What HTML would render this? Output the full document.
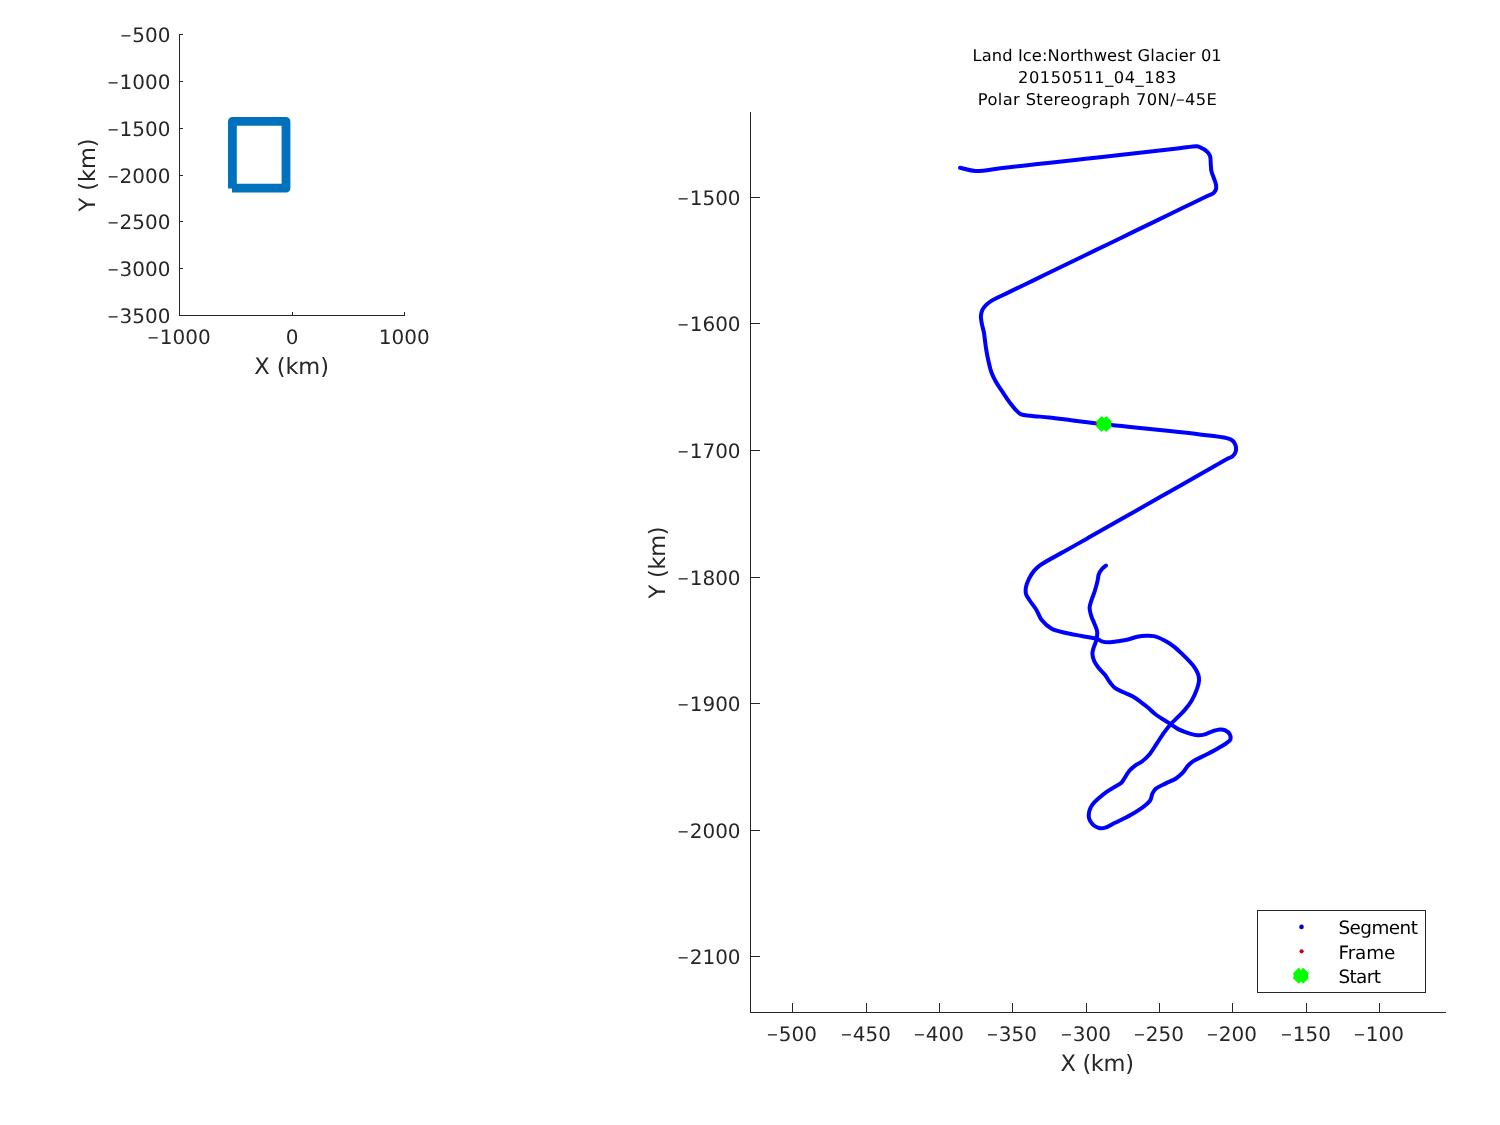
<!DOCTYPE html>
<html><head><meta charset="utf-8"><title>Land Ice:Northwest Glacier 01</title>
<style>html,body{margin:0;padding:0;background:#fff;}body{width:1500px;height:1125px;overflow:hidden;}svg{display:block;will-change:transform;}text{text-rendering:geometricPrecision;}</style>
</head><body>
<svg width="1500" height="1125" viewBox="0 0 1500 1125"><g fill="#262626" shape-rendering="crispEdges">
<rect x="179" y="34" width="1" height="282"/>
<rect x="179" y="315" width="226" height="1"/>
<rect x="180" y="34" width="3" height="1"/>
<rect x="180" y="81" width="3" height="1"/>
<rect x="180" y="128" width="3" height="1"/>
<rect x="180" y="175" width="3" height="1"/>
<rect x="180" y="221" width="3" height="1"/>
<rect x="180" y="268" width="3" height="1"/>
<rect x="292" y="312" width="1" height="3"/>
<rect x="404" y="312" width="1" height="3"/>
</g>
<g font-family='"DejaVu Sans", "Liberation Sans", sans-serif' font-size="20" fill="#262626">
<text x="170.50" y="42.20" text-anchor="end"><tspan font-family='"Liberation Sans", "DejaVu Sans", sans-serif' font-size="18.5">−</tspan><tspan dx="1.1">500</tspan></text>
<text x="170.50" y="89.20" text-anchor="end"><tspan font-family='"Liberation Sans", "DejaVu Sans", sans-serif' font-size="18.5">−</tspan><tspan dx="1.1">1000</tspan></text>
<text x="170.50" y="136.20" text-anchor="end"><tspan font-family='"Liberation Sans", "DejaVu Sans", sans-serif' font-size="18.5">−</tspan><tspan dx="1.1">1500</tspan></text>
<text x="170.50" y="183.20" text-anchor="end"><tspan font-family='"Liberation Sans", "DejaVu Sans", sans-serif' font-size="18.5">−</tspan><tspan dx="1.1">2000</tspan></text>
<text x="170.50" y="229.20" text-anchor="end"><tspan font-family='"Liberation Sans", "DejaVu Sans", sans-serif' font-size="18.5">−</tspan><tspan dx="1.1">2500</tspan></text>
<text x="170.50" y="276.20" text-anchor="end"><tspan font-family='"Liberation Sans", "DejaVu Sans", sans-serif' font-size="18.5">−</tspan><tspan dx="1.1">3000</tspan></text>
<text x="170.50" y="323.20" text-anchor="end"><tspan font-family='"Liberation Sans", "DejaVu Sans", sans-serif' font-size="18.5">−</tspan><tspan dx="1.1">3500</tspan></text>
<text x="179.20" y="344.00" text-anchor="middle"><tspan font-family='"Liberation Sans", "DejaVu Sans", sans-serif' font-size="18.5">−</tspan><tspan dx="1.1">1000</tspan></text>
<text x="292.20" y="344.00" text-anchor="middle">0</text>
<text x="404.20" y="344.00" text-anchor="middle">1000</text>
</g>
<g font-family='"DejaVu Sans", "Liberation Sans", sans-serif' fill="#262626">
<text x="254.33" y="373.70" font-size="22.5" textLength="74.60" lengthAdjust="spacing">X (km)</text>
<g transform="translate(94.5,211.5) rotate(-90)"><text x="0.04" y="0.00" font-size="22.5" textLength="73.09" lengthAdjust="spacing">Y (km)</text></g>
</g>
<path d="M232.4,188.4V121.4H286V188.2H232" fill="none" stroke="#0072BD" stroke-width="8.8" stroke-linejoin="round" stroke-linecap="butt"/>
<g fill="#262626" shape-rendering="crispEdges">
<rect x="750" y="112" width="1" height="901"/>
<rect x="750" y="1012" width="696" height="1"/>
<rect x="751" y="197" width="9" height="1"/>
<rect x="751" y="323" width="9" height="1"/>
<rect x="751" y="450" width="9" height="1"/>
<rect x="751" y="577" width="9" height="1"/>
<rect x="751" y="703" width="9" height="1"/>
<rect x="751" y="830" width="9" height="1"/>
<rect x="751" y="956" width="9" height="1"/>
<rect x="792" y="1003" width="1" height="9"/>
<rect x="866" y="1003" width="1" height="9"/>
<rect x="939" y="1003" width="1" height="9"/>
<rect x="1012" y="1003" width="1" height="9"/>
<rect x="1086" y="1003" width="1" height="9"/>
<rect x="1159" y="1003" width="1" height="9"/>
<rect x="1232" y="1003" width="1" height="9"/>
<rect x="1306" y="1003" width="1" height="9"/>
<rect x="1379" y="1003" width="1" height="9"/>
</g>
<g font-family='"DejaVu Sans", "Liberation Sans", sans-serif' font-size="20" fill="#262626">
<text x="740.60" y="205.10" text-anchor="end"><tspan font-family='"Liberation Sans", "DejaVu Sans", sans-serif' font-size="18.5">−</tspan><tspan dx="1.1">1500</tspan></text>
<text x="740.60" y="331.10" text-anchor="end"><tspan font-family='"Liberation Sans", "DejaVu Sans", sans-serif' font-size="18.5">−</tspan><tspan dx="1.1">1600</tspan></text>
<text x="740.60" y="458.10" text-anchor="end"><tspan font-family='"Liberation Sans", "DejaVu Sans", sans-serif' font-size="18.5">−</tspan><tspan dx="1.1">1700</tspan></text>
<text x="740.60" y="585.10" text-anchor="end"><tspan font-family='"Liberation Sans", "DejaVu Sans", sans-serif' font-size="18.5">−</tspan><tspan dx="1.1">1800</tspan></text>
<text x="740.60" y="711.10" text-anchor="end"><tspan font-family='"Liberation Sans", "DejaVu Sans", sans-serif' font-size="18.5">−</tspan><tspan dx="1.1">1900</tspan></text>
<text x="740.60" y="838.10" text-anchor="end"><tspan font-family='"Liberation Sans", "DejaVu Sans", sans-serif' font-size="18.5">−</tspan><tspan dx="1.1">2000</tspan></text>
<text x="740.60" y="964.10" text-anchor="end"><tspan font-family='"Liberation Sans", "DejaVu Sans", sans-serif' font-size="18.5">−</tspan><tspan dx="1.1">2100</tspan></text>
<text x="792.00" y="1041.10" text-anchor="middle"><tspan font-family='"Liberation Sans", "DejaVu Sans", sans-serif' font-size="18.5">−</tspan><tspan dx="1.1">500</tspan></text>
<text x="866.00" y="1041.10" text-anchor="middle"><tspan font-family='"Liberation Sans", "DejaVu Sans", sans-serif' font-size="18.5">−</tspan><tspan dx="1.1">450</tspan></text>
<text x="939.00" y="1041.10" text-anchor="middle"><tspan font-family='"Liberation Sans", "DejaVu Sans", sans-serif' font-size="18.5">−</tspan><tspan dx="1.1">400</tspan></text>
<text x="1012.00" y="1041.10" text-anchor="middle"><tspan font-family='"Liberation Sans", "DejaVu Sans", sans-serif' font-size="18.5">−</tspan><tspan dx="1.1">350</tspan></text>
<text x="1086.00" y="1041.10" text-anchor="middle"><tspan font-family='"Liberation Sans", "DejaVu Sans", sans-serif' font-size="18.5">−</tspan><tspan dx="1.1">300</tspan></text>
<text x="1159.00" y="1041.10" text-anchor="middle"><tspan font-family='"Liberation Sans", "DejaVu Sans", sans-serif' font-size="18.5">−</tspan><tspan dx="1.1">250</tspan></text>
<text x="1232.00" y="1041.10" text-anchor="middle"><tspan font-family='"Liberation Sans", "DejaVu Sans", sans-serif' font-size="18.5">−</tspan><tspan dx="1.1">200</tspan></text>
<text x="1306.00" y="1041.10" text-anchor="middle"><tspan font-family='"Liberation Sans", "DejaVu Sans", sans-serif' font-size="18.5">−</tspan><tspan dx="1.1">150</tspan></text>
<text x="1379.00" y="1041.10" text-anchor="middle"><tspan font-family='"Liberation Sans", "DejaVu Sans", sans-serif' font-size="18.5">−</tspan><tspan dx="1.1">100</tspan></text>
</g>
<g font-family='"DejaVu Sans", "Liberation Sans", sans-serif' fill="#262626">
<text x="1060.53" y="1070.80" font-size="22.5" textLength="73.40" lengthAdjust="spacing">X (km)</text>
<g transform="translate(664.5,598.5) rotate(-90)"><text x="0.04" y="0.00" font-size="22.5" textLength="72.09" lengthAdjust="spacing">Y (km)</text></g>
</g>
<g font-family='"DejaVu Sans", "Liberation Sans", sans-serif' fill="#000">
<text x="972.50" y="61.00" font-size="16.3" textLength="249.20" lengthAdjust="spacing">Land Ice:Northwest Glacier 01</text>
<text x="1018.11" y="83.00" font-size="16.3" textLength="158.20" lengthAdjust="spacing">20150511_04_183</text>
<text x="977.80" y="104.70" font-size="16.3" textLength="238.99" lengthAdjust="spacing">Polar Stereograph 70N/<tspan font-family='"Liberation Sans", "DejaVu Sans", sans-serif' font-size="14.8">−</tspan>45E</text>
</g>
<path d="M960.00,167.80C965.17,168.87 969.70,170.73 975.50,171.00C982.80,171.34 992.10,169.16 1000.40,168.24C1008.70,167.32 1017.00,166.40 1025.30,165.48C1033.60,164.56 1041.90,163.64 1050.20,162.72C1058.50,161.80 1066.80,160.88 1075.10,159.96C1083.40,159.04 1091.58,158.14 1100.00,157.20C1108.68,156.23 1117.62,155.22 1126.43,154.23C1135.24,153.24 1144.06,152.26 1152.87,151.27C1161.68,150.28 1171.40,149.22 1179.30,148.30C1185.73,147.55 1193.66,146.00 1196.80,146.20C1197.98,146.27 1198.21,146.38 1199.20,146.80C1201.15,147.62 1205.43,149.95 1207.30,151.80C1208.69,153.17 1209.49,154.40 1210.10,156.20C1210.88,158.53 1210.56,162.25 1210.80,164.90C1211.00,167.14 1210.95,169.06 1211.40,171.10C1211.87,173.20 1212.87,175.13 1213.60,177.30C1214.40,179.68 1215.66,182.62 1216.00,184.80C1216.25,186.41 1216.39,187.76 1216.00,189.10C1215.60,190.47 1214.79,191.83 1213.60,192.90C1212.11,194.24 1210.10,194.63 1207.30,196.00C1201.76,198.71 1190.74,204.03 1182.46,208.05C1174.18,212.07 1165.90,216.08 1157.62,220.10C1149.35,224.12 1141.07,228.13 1132.79,232.15C1124.51,236.17 1116.23,240.18 1107.95,244.20C1099.67,248.22 1091.39,252.23 1083.11,256.25C1074.83,260.27 1066.55,264.28 1058.28,268.30C1050.00,272.32 1041.72,276.33 1033.44,280.35C1025.16,284.37 1015.92,288.86 1008.60,292.40C1002.80,295.20 997.05,297.47 993.00,299.90C990.17,301.60 988.04,303.09 986.20,304.90C984.61,306.46 983.28,308.04 982.40,309.90C981.51,311.77 981.03,313.92 980.90,316.10C980.76,318.47 981.33,320.98 981.80,323.60C982.32,326.55 983.47,330.00 984.00,332.90C984.46,335.41 984.55,337.39 984.90,340.00C985.33,343.20 985.80,347.15 986.40,350.70C987.00,354.25 987.69,357.77 988.50,361.30C989.32,364.87 990.08,368.61 991.30,372.00C992.47,375.26 993.90,378.21 995.60,381.30C997.42,384.61 999.74,387.80 1002.00,391.20C1004.45,394.88 1007.26,399.21 1009.80,402.60C1011.97,405.50 1014.08,408.34 1016.20,410.40C1017.88,412.04 1019.14,413.41 1021.20,414.30C1023.71,415.38 1026.87,415.25 1030.50,415.70C1035.61,416.33 1042.56,416.79 1049.00,417.50C1056.06,418.28 1063.77,419.33 1071.15,420.25C1078.53,421.17 1087.29,422.28 1093.30,423.00C1097.41,423.49 1099.75,423.77 1103.70,424.20C1108.91,424.77 1115.80,425.47 1121.85,426.10C1127.90,426.73 1134.24,427.41 1140.00,428.00C1145.24,428.54 1150.00,429.00 1155.00,429.50C1160.00,430.00 1164.21,430.38 1170.00,431.00C1177.97,431.85 1188.93,433.02 1198.40,434.20C1207.90,435.38 1221.10,436.46 1226.90,438.10C1229.60,438.86 1231.16,439.38 1232.60,440.60C1233.91,441.71 1234.85,443.24 1235.40,444.90C1236.01,446.75 1236.30,449.37 1235.80,451.30C1235.32,453.16 1233.89,455.17 1232.60,456.30C1231.55,457.23 1230.70,457.12 1229.00,458.00C1224.56,460.30 1213.30,466.91 1205.45,471.36C1197.60,475.82 1189.75,480.27 1181.90,484.73C1174.05,489.18 1166.20,493.63 1158.35,498.09C1150.50,502.54 1142.65,507.00 1134.80,511.45C1126.95,515.90 1119.10,520.36 1111.25,524.81C1103.40,529.27 1095.55,533.72 1087.70,538.17C1079.85,542.63 1072.00,547.08 1064.15,551.54C1056.30,555.99 1045.85,561.14 1040.60,564.90C1037.64,567.02 1036.07,568.41 1034.20,570.60C1032.25,572.88 1030.57,575.66 1029.20,578.40C1027.84,581.13 1026.50,584.24 1026.00,587.00C1025.57,589.41 1025.44,591.85 1026.00,594.00C1026.54,596.07 1027.85,597.57 1029.20,599.70C1031.04,602.61 1034.20,606.27 1036.30,609.70C1038.35,613.04 1039.26,616.91 1041.70,620.00C1044.30,623.30 1047.87,626.59 1051.70,628.70C1055.62,630.86 1060.28,631.53 1065.00,632.70C1070.22,634.00 1076.32,634.97 1081.70,636.00C1086.73,636.96 1092.68,637.52 1096.30,638.70C1098.60,639.45 1099.76,640.70 1101.70,641.30C1103.75,641.93 1105.80,642.26 1108.30,642.30C1111.56,642.36 1116.12,641.51 1119.60,641.00C1122.61,640.56 1125.15,640.17 1128.00,639.50C1131.04,638.79 1134.16,637.42 1137.30,636.80C1140.40,636.19 1143.79,635.89 1146.70,635.80C1149.20,635.72 1151.63,635.75 1153.70,636.10C1155.41,636.39 1156.65,636.85 1158.30,637.50C1160.35,638.31 1162.70,639.52 1165.00,640.80C1167.58,642.24 1170.30,643.77 1173.00,645.80C1176.16,648.17 1179.35,651.21 1182.60,654.40C1186.27,657.99 1191.08,662.64 1193.80,666.40C1195.83,669.20 1197.36,671.80 1198.20,674.40C1198.91,676.58 1199.14,678.56 1199.00,680.80C1198.85,683.33 1198.00,685.92 1197.00,688.80C1195.74,692.43 1193.75,697.04 1191.60,700.70C1189.53,704.22 1186.90,707.49 1184.40,710.40C1182.11,713.07 1179.67,715.21 1177.30,717.60C1174.94,719.98 1172.41,722.19 1170.20,724.70C1167.98,727.22 1166.09,729.81 1164.00,732.70C1161.66,735.95 1159.26,739.76 1156.90,743.30C1154.53,746.86 1152.41,750.87 1149.80,754.00C1147.40,756.87 1144.56,759.54 1142.00,761.50C1139.91,763.10 1137.82,763.73 1135.80,765.20C1133.61,766.79 1131.26,768.68 1129.40,770.80C1127.52,772.94 1126.04,775.84 1124.60,778.00C1123.43,779.76 1122.92,781.35 1121.40,782.80C1119.47,784.64 1115.91,786.06 1113.40,787.60C1111.14,788.98 1109.21,790.04 1107.00,791.60C1104.43,793.42 1101.46,795.80 1099.00,798.00C1096.69,800.07 1094.24,802.13 1092.60,804.40C1091.14,806.42 1090.00,808.54 1089.40,810.80C1088.80,813.07 1088.48,815.74 1089.00,818.00C1089.53,820.28 1090.93,822.73 1092.60,824.40C1094.27,826.07 1096.79,827.49 1099.00,828.00C1101.07,828.47 1103.12,828.21 1105.40,827.60C1108.35,826.81 1111.39,824.60 1115.00,822.80C1119.66,820.47 1125.90,817.76 1131.00,814.80C1136.02,811.89 1141.98,808.00 1145.40,805.20C1147.54,803.44 1149.01,802.33 1150.20,800.40C1151.46,798.36 1151.55,795.24 1152.60,793.20C1153.49,791.47 1154.24,790.17 1155.80,788.80C1158.01,786.86 1162.10,785.29 1165.40,783.60C1168.83,781.85 1172.98,780.48 1176.00,778.50C1178.62,776.78 1180.70,774.85 1182.70,772.70C1184.70,770.55 1186.11,767.61 1188.00,765.60C1189.67,763.82 1191.12,762.53 1193.30,761.10C1196.16,759.22 1200.25,757.73 1204.00,755.80C1208.21,753.64 1213.34,750.96 1217.30,748.70C1220.59,746.82 1223.88,745.00 1226.20,743.30C1227.86,742.08 1229.60,741.27 1230.20,739.80C1230.81,738.31 1230.56,735.94 1229.80,734.40C1229.00,732.78 1226.99,731.19 1225.30,730.40C1223.70,729.65 1221.98,729.51 1220.00,729.60C1217.41,729.72 1213.77,730.92 1211.10,731.80C1208.81,732.56 1207.08,733.82 1204.90,734.40C1202.65,735.00 1200.23,735.40 1197.80,735.30C1195.20,735.19 1192.68,734.46 1189.80,733.60C1186.25,732.54 1181.62,730.87 1178.20,729.10C1175.19,727.54 1173.29,725.83 1170.20,723.80C1165.96,721.02 1159.16,717.13 1155.10,714.00C1152.05,711.65 1150.06,709.24 1147.60,707.20C1145.37,705.35 1143.33,703.89 1141.00,702.20C1138.46,700.36 1135.77,698.24 1132.90,696.60C1129.97,694.93 1126.65,693.77 1123.60,692.30C1120.61,690.86 1117.17,689.73 1114.80,687.90C1112.74,686.31 1111.48,684.36 1109.90,682.30C1108.16,680.03 1106.76,677.17 1104.90,674.80C1103.03,672.40 1100.51,670.34 1098.70,668.00C1097.00,665.80 1095.35,663.61 1094.30,661.20C1093.27,658.84 1092.45,656.09 1092.40,653.70C1092.36,651.54 1093.10,649.60 1093.70,647.50C1094.34,645.24 1095.62,643.06 1096.20,640.60C1096.83,637.93 1097.47,634.73 1097.20,632.00C1096.94,629.41 1095.74,627.16 1094.80,624.60C1093.77,621.78 1092.08,618.71 1091.20,615.80C1090.39,613.11 1089.54,610.46 1089.60,607.80C1089.66,605.13 1090.77,602.51 1091.60,599.80C1092.48,596.91 1093.83,594.08 1094.80,591.00C1095.84,587.70 1096.90,583.66 1097.60,580.60C1098.14,578.22 1098.04,576.16 1098.80,574.20C1099.53,572.30 1100.75,570.48 1102.00,569.00C1103.17,567.62 1104.67,566.67 1106.00,565.50" fill="none" stroke="#0000ff" stroke-width="4" stroke-linejoin="round" stroke-linecap="round"/>
<circle cx="1096.9" cy="423.4" r="1.9" fill="#a01010"/>
<path d="M1098.75,418.85L1109.05,429.15M1098.75,429.15L1109.05,418.85" stroke="#00ff00" stroke-width="8.06" stroke-linecap="butt" fill="none"/><rect x="1096.70" y="421.00" width="14.4" height="6" fill="#00ff00"/>
<rect x="1257.5" y="910.5" width="168" height="82" fill="#fff" stroke="#262626" stroke-width="1" shape-rendering="crispEdges"/>
<circle cx="1301.5" cy="926.9" r="2.3" fill="#0000c8"/>
<circle cx="1301.6" cy="951.3" r="2.1" fill="#c80020"/>
<path d="M1295.75,970.65L1306.05,980.95M1295.75,980.95L1306.05,970.65" stroke="#00ff00" stroke-width="8.06" stroke-linecap="butt" fill="none"/><rect x="1293.70" y="972.80" width="14.4" height="6" fill="#00ff00"/>
<g font-family='"DejaVu Sans", "Liberation Sans", sans-serif' fill="#000">
<text x="1338.39" y="933.80" font-size="18.4" textLength="79.55" lengthAdjust="spacing">Segment</text>
<text x="1338.49" y="958.60" font-size="18.4" textLength="56.89" lengthAdjust="spacing">Frame</text>
<text x="1338.39" y="982.60" font-size="18.4" textLength="42.55" lengthAdjust="spacing">Start</text>
</g></svg>
</body></html>
